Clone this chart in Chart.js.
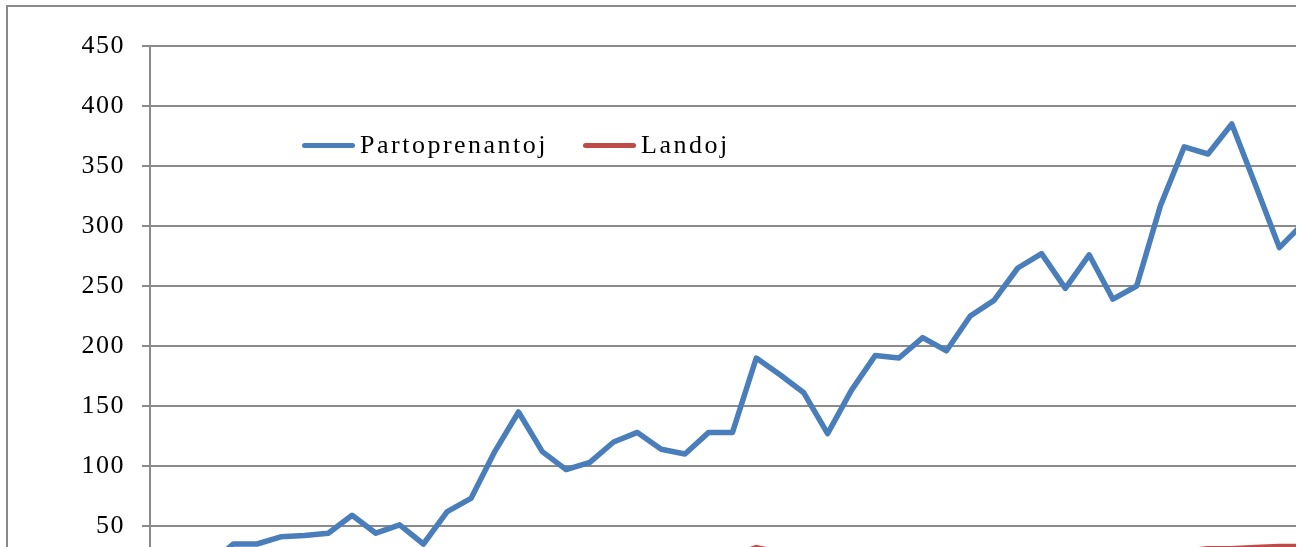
<!DOCTYPE html>
<html>
<head>
<meta charset="utf-8">
<script src="https://cdn.jsdelivr.net/npm/chart.js@4.4.1/dist/chart.umd.min.js"></script>
<style>
  html, body { margin: 0; padding: 0; background: #fff; overflow: hidden; width: 1300px; height: 547px; }
  #clip { position: absolute; left: 0; top: 0; width: 1296px; height: 547px; overflow: hidden; }
  #frame { position: absolute; left: 6px; top: 5px; width: 1340px; height: 640px; border: 2px solid #8a8a8a; }
  #chart { position: absolute; left: 0; top: 0; }
  #legend { position: absolute; left: 294px; top: 125px; display: flex; align-items: center;
            font-family: 'Liberation Serif', 'Times New Roman', serif; font-size: 26px; line-height: 1; color: #000; }
  .item { display: flex; align-items: center; }
  .item + .item { margin-left: 35px; }
  .swatch { width: 53px; height: 5px; border-radius: 3px; margin-right: 5px; }
  .txt { letter-spacing: 2.5px; }
</style>
</head>
<body>
<div id="clip">
<div id="frame">
  <canvas id="chart" width="1320" height="600"></canvas>
  <div id="legend"></div>
</div>
</div>
<script>
// one category per event (the axis labels are outside the visible picture)
var editions = ['1', '2', '3', '4', '5', '6', '7', '8', '9', '10',
                '11', '12', '13', '14', '15', '16', '17', '18', '19', '20',
                '21', '22', '23', '24', '25', '26', '27', '28', '29', '30',
                '31', '32', '33', '34', '35', '36', '37', '38', '39', '40',
                '41', '42', '43', '44', '45', '46', '47', '48', '49'];

var participants = [20, 24, 18, 35, 35, 41, 42, 44, 59, 44,
                    51, 35, 62, 73, 112, 145, 112, 97, 103, 120,
                    128, 114, 110, 128, 128, 190, 176, 161, 127, 163,
                    192, 190, 207, 196, 225, 238, 265, 277, 248, 276,
                    239, 250, 317, 366, 360, 385, 334, 282, 302];

var countries = [8, 10, 9, 12, 13, 14, 15, 15, 18, 16,
                 17, 14, 18, 19, 22, 24, 22, 21, 22, 24,
                 25, 23, 23, 24, 25, 32, 28, 27, 24, 26,
                 27, 27, 28, 27, 28, 28, 29, 29, 28, 29,
                 28, 28, 29, 29, 31, 31, 32, 33, 33];

var yTicks = { min: 0, max: 450, step: 50 };

var gridGrey = '#8a8a8a';
var serif = 'Liberation Serif';

var ctx = document.getElementById('chart').getContext('2d');

// the tick numbers in the original are slightly spaced out
var spacedText = {
    id: 'spacedText',
    beforeDraw: function (chart) { chart.ctx.letterSpacing = '1.5px'; },
    afterDraw: function (chart) { chart.ctx.letterSpacing = '0px'; }
};

var chart = new Chart(ctx, {
    type: 'line',
    data: {
        labels: editions,
        datasets: [{
            label: 'Partoprenantoj',
            data: participants,
            borderColor: '#4a7ebb',
            borderWidth: 5.5,
            pointRadius: 0,
            tension: 0,
            borderJoinStyle: 'round',
            borderCapStyle: 'round'
        },
        {
            label: 'Landoj',
            data: countries,
            borderColor: '#be4b48',
            borderWidth: 5.5,
            pointRadius: 0,
            tension: 0,
            borderJoinStyle: 'round',
            borderCapStyle: 'round'
        }]
    },
    options: {
        responsive: false,
        animation: false,
        layout: {
            padding: { left: 0, right: 13, top: 39, bottom: 21 }
        },
        plugins: {
            legend: { display: false },
            tooltip: { enabled: false }
        },
        scales: {
            x: {
                display: false,
                offset: true
            },
            y: {
                min: yTicks.min,
                max: yTicks.max,
                ticks: {
                    stepSize: yTicks.step,
                    color: '#000',
                    padding: 17,
                    font: { family: serif, size: 26 }
                },
                grid: {
                    color: gridGrey,
                    lineWidth: 2,
                    tickLength: 8
                },
                border: { color: gridGrey, width: 2 },
                afterFit: function (scale) {
                    scale.width = 142;
                    // label overhang is handled by the layout padding above
                    scale.paddingTop = 0;
                    scale.paddingBottom = 0;
                }
            }
        }
    },
    plugins: [spacedText]
});

// legend drawn as html so the letter spacing can match
var legendBox = document.getElementById('legend');
chart.data.datasets.forEach(function (ds) {
    var item = document.createElement('div');
    item.className = 'item';
    var sw = document.createElement('span');
    sw.className = 'swatch';
    sw.style.background = ds.borderColor;
    var t = document.createElement('span');
    t.className = 'txt';
    t.textContent = ds.label;
    item.appendChild(sw);
    item.appendChild(t);
    legendBox.appendChild(item);
});
</script>
</body>
</html>
